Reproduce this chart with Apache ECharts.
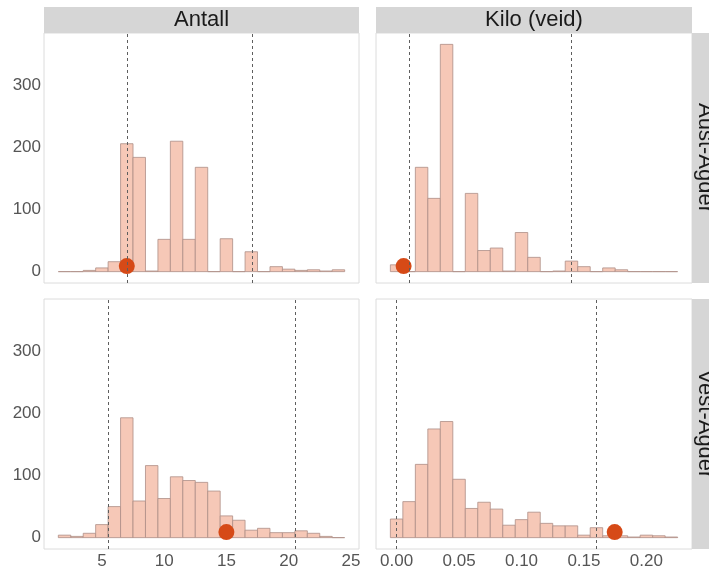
<!DOCTYPE html>
<html>
<head>
<meta charset="utf-8">
<script src="https://cdn.jsdelivr.net/npm/echarts@6/dist/echarts.min.js"></script>
<style>
  html, body { margin: 0; padding: 0; background: #ffffff; }
  #chart { width: 709px; height: 570px; }
</style>
</head>
<body>
<div id="chart"></div>
<script>
// Histogram bins (bin centres) for each measure
const antallBins = [2, 3, 4, 5, 6, 7, 8, 9, 10, 11, 12, 13, 14, 15, 16, 17, 18, 19, 20, 21, 22, 23, 24];
const kiloBins = [0.00, 0.01, 0.02, 0.03, 0.04, 0.05, 0.06, 0.07, 0.08, 0.09, 0.10, 0.11,
                  0.12, 0.13, 0.14, 0.15, 0.16, 0.17, 0.18, 0.19, 0.20, 0.21, 0.22];
const antallBinWidth = 1;
const kiloBinWidth = 0.01;

// Counts per bin
const antallAust = [0, 0, 2, 6, 16, 206, 184, 1, 52, 210, 52, 168, 0, 53, 0, 32, 0, 8, 4, 2, 3, 1, 3];
const kiloAust   = [11, 0, 168, 118, 366, 0, 126, 34, 38, 1, 63, 23, 0, 1, 17, 8, 0, 6, 3, 0, 0, 0, 0];
const antallVest = [4, 2, 7, 21, 50, 193, 59, 116, 63, 98, 92, 89, 75, 35, 28, 12, 15, 8, 8, 11, 7, 2, 0];
const kiloVest   = [30, 58, 118, 175, 187, 94, 47, 57, 46, 20, 29, 41, 23, 19, 19, 4, 16, 3, 3, 1, 4, 3, 1];

// Observed value (dot) and interval limits (dashed lines)
const antallAustPoint = 7,      antallAustLimits = [7.0, 17.05];
const kiloAustPoint   = 0.0056, kiloAustLimits   = [0.0141, 0.1362];
const antallVestPoint = 15,     antallVestLimits = [5.5, 20.53];
const kiloVestPoint   = 0.1746, kiloVestLimits   = [0.0027, 0.1626];
const pointHeight = 9;

// Axis labels
const countTicks  = [0, 100, 200, 300];
const antallTicks = [5, 10, 15, 20, 25];
const kiloTicks   = [0.00, 0.05, 0.10, 0.15, 0.20];

const colLabels = ['Antall', 'Kilo (veid)'];
const rowLabels = ['Aust-Agder', 'Vest-Agder'];

// ---- layout ----
const FONT = '"Liberation Sans", Arial, sans-serif';
const colX = [44, 376];
const colW = [315, 316];
const rowY = [33, 299];
const panelH = 250;
const stripH = 26;

const barFill = '#f6c8b7';
const barStroke = '#ad8e86';
const dotColor = '#d64a17';
const lineColor = '#5e5e5e';
const tickColor = '#555555';

function expand(lo, hi) {
  const pad = (hi - lo) * 0.05;
  return [lo - pad, hi + pad];
}
const countMax = Math.max(...antallAust, ...kiloAust, ...antallVest, ...kiloVest);
const yRange = expand(0, countMax);
const antallRange = expand(antallBins[0] - antallBinWidth / 2, antallBins[antallBins.length - 1] + antallBinWidth / 2);
const kiloRange = expand(kiloBins[0] - kiloBinWidth / 2, kiloBins[kiloBins.length - 1] + kiloBinWidth / 2);

const panels = [
  { row: 0, col: 0, bins: antallBins, counts: antallAust, w: antallBinWidth, pt: antallAustPoint, lim: antallAustLimits },
  { row: 0, col: 1, bins: kiloBins,   counts: kiloAust,   w: kiloBinWidth,   pt: kiloAustPoint,   lim: kiloAustLimits },
  { row: 1, col: 0, bins: antallBins, counts: antallVest, w: antallBinWidth, pt: antallVestPoint, lim: antallVestLimits },
  { row: 1, col: 1, bins: kiloBins,   counts: kiloVest,   w: kiloBinWidth,   pt: kiloVestPoint,   lim: kiloVestLimits }
];

const grid = [], xAxis = [], yAxis = [], series = [];

panels.forEach((p, i) => {
  grid.push({
    left: colX[p.col], top: rowY[p.row], width: colW[p.col], height: panelH,
    show: true, borderColor: '#dcdcdc', borderWidth: 1, backgroundColor: '#ffffff'
  });
  const isAntall = p.col === 0;
  const range = isAntall ? antallRange : kiloRange;
  xAxis.push({
    type: 'value', gridIndex: i, min: range[0], max: range[1],
    axisLine: { show: false }, axisTick: { show: false }, splitLine: { show: false },
    axisLabel: {
      show: p.row === 1,
      customValues: isAntall ? antallTicks : kiloTicks,
      formatter: v => isAntall ? String(v) : v.toFixed(2),
      color: tickColor, fontSize: 17, fontFamily: FONT, margin: 4
    }
  });
  yAxis.push({
    type: 'value', gridIndex: i, min: yRange[0], max: yRange[1],
    axisLine: { show: false }, axisTick: { show: false }, splitLine: { show: false },
    axisLabel: {
      show: p.col === 0,
      customValues: countTicks,
      color: tickColor, fontSize: 17, fontFamily: FONT, margin: 3
    }
  });

  const halfW = p.w / 2;
  series.push({
    type: 'custom', xAxisIndex: i, yAxisIndex: i, clip: true,
    data: p.bins.map((b, k) => [b, p.counts[k]]),
    renderItem: (params, api) => {
      const c = api.value(0), n = api.value(1);
      const tl = api.coord([c - halfW, n]);
      const br = api.coord([c + halfW, 0]);
      return {
        type: 'rect',
        shape: { x: tl[0], y: tl[1], width: br[0] - tl[0], height: br[1] - tl[1] },
        style: { fill: barFill, stroke: barStroke, lineWidth: 0.8 }
      };
    },
    silent: true, z: 2
  });

  series.push({
    type: 'scatter', xAxisIndex: i, yAxisIndex: i,
    data: [[p.pt, pointHeight]],
    symbol: 'circle', symbolSize: 16,
    itemStyle: { color: dotColor, opacity: 1 },
    silent: true, z: 4,
    markLine: {
      silent: true, symbol: 'none', animation: false,
      label: { show: false },
      lineStyle: { color: lineColor, type: [3, 3], width: 1 },
      data: p.lim.map(v => ({ xAxis: v }))
    }
  });
});

// facet strips
const graphic = [];
colLabels.forEach((t, c) => {
  graphic.push({
    type: 'rect', left: colX[c], top: rowY[0] - stripH,
    shape: { width: colW[c], height: stripH },
    style: { fill: '#d6d6d6' }, silent: true
  });
  graphic.push({
    type: 'text', x: colX[c] + colW[c] / 2, y: rowY[0] - stripH / 2,
    style: { text: t, fill: '#1a1a1a', font: '22px ' + FONT, align: 'center', verticalAlign: 'middle' },
    silent: true
  });
});
rowLabels.forEach((t, r) => {
  const sx = colX[1] + colW[1];
  graphic.push({
    type: 'rect', left: sx, top: rowY[r],
    shape: { width: stripH, height: panelH },
    style: { fill: '#d6d6d6' }, silent: true
  });
  graphic.push({
    type: 'text', x: sx + stripH / 2, y: rowY[r] + panelH / 2,
    rotation: -Math.PI / 2,
    style: { text: t, fill: '#1a1a1a', font: '22px ' + FONT, align: 'center', verticalAlign: 'middle' },
    silent: true
  });
});

const chart = echarts.init(document.getElementById('chart'), null, { renderer: 'canvas' });
chart.setOption({
  animation: false,
  backgroundColor: '#ffffff',
  grid, xAxis, yAxis, series, graphic
});
</script>
</body>
</html>
